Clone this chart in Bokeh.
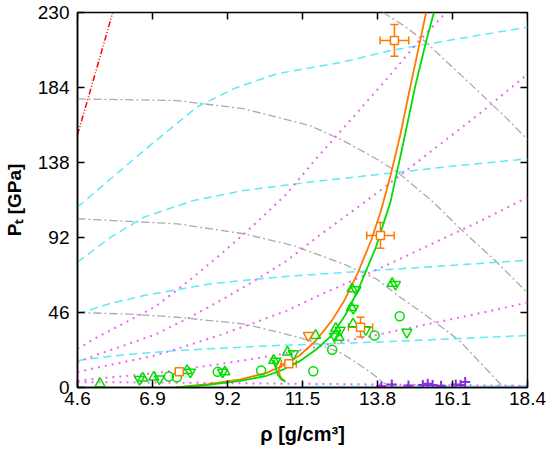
import math
from bokeh.plotting import figure
from bokeh.models import Range1d, FixedTicker, Whisker, ColumnDataSource, TeeHead
from bokeh.embed import file_html
from bokeh.resources import INLINE

X_TICKS = [4.6, 6.9, 9.2, 11.5, 13.8, 16.1, 18.4]
X_LABELS = ["4.6", "6.9", "9.2", "11.5", "13.8", "16.1", "18.4"]
Y_TICKS = [0, 46, 92, 138, 184, 230]
Y_LABELS = ["0", "46", "92", "138", "184", "230"]
X_TITLE = "ρ [g/cm³]"
Y_TITLE = "Pₜ [GPa]"

# red dash-dot-dot line
red_x = [4.6, 5.26, 5.68]
red_y = [155, 200.6, 230]

# gray dash-dot arcs
arcA_x = [4.6, 6.2, 7.65, 9.69, 10.86, 11.72, 12.74, 13.5, 14.2]
arcA_y = [46, 45, 43.1, 39, 33.5, 28.8, 20.6, 10.5, 0]
arc1_x = [4.6, 7.65, 9.69, 11.22, 12.74, 13.76, 14.42, 15.3, 16.3, 17.67]
arc1_y = [103.5, 100.4, 94.3, 87.1, 75.9, 66.7, 56.5, 44, 29, 0]
arc2_x = [4.6, 7.65, 9.69, 11.72, 12.74, 13.76, 14.42, 15.44, 16.36, 17.4, 18.4]
arc2_y = [177, 176, 171, 160.7, 151.5, 140.3, 132, 115, 97, 78, 58]
arc3_x = [13.97, 14.6, 15.24, 16.5, 17.82, 18.4]
arc3_y = [230, 222, 212.5, 189, 164, 152]

# cyan dashed curves
cy1_x = [4.6, 5.62, 6.64, 7.14, 8.26, 9.42, 10.71, 12.74, 14.2, 16.3, 18.4]
cy1_y = [110.6, 128, 145.4, 153.6, 172, 183.5, 192.4, 199.6, 206.7, 214, 221]
cy2_x = [4.6, 5.62, 6.64, 8.16, 9.69, 11.72, 13.76, 16.0, 18.4]
cy2_y = [76.9, 92.2, 104.5, 114.7, 120.8, 126, 130.5, 135.5, 140.3]
cy3_x = [4.6, 5.6, 6.64, 8.67, 10.71, 12.39, 15.0, 18.4]
cy3_y = [45.2, 51.5, 56.4, 63.6, 67.7, 70, 73.5, 78]
cy4_x = [4.6, 6.0, 7.65, 10.71, 13.76, 18.4]
cy4_y = [16.6, 20.0, 22.7, 25.8, 27.8, 31.9]
cy5_x = [11.0, 14.0, 18.4]
cy5_y = [0.5, 0.7, 0.9]

# magenta dotted curves
mg_x = [4.6, 5.2, 6.0, 7.0, 8.0, 9.0, 10.0, 11.0, 12.0, 13.0, 14.0, 15.0, 16.0, 17.0, 18.4]
mga_x = [4.6, 5.2, 6.0, 7.0, 8.0, 9.0, 10.0, 11.0, 12.0, 13.0, 14.0, 15.0, 15.9]
mga_y = [23.7, 30.8, 39.1, 49.8, 65.2, 81.8, 99.5, 118.5, 142.2, 164.7, 187.2, 210.9, 230]
mgb_y = [15.5, 20.2, 25.6, 32.6, 42.6, 53.5, 65.1, 77.5, 93, 107.7, 122.5, 138, 153.5, 169, 192.2]
mgc_y = [9.4, 12.2, 15.5, 19.7, 25.9, 32.4, 39.5, 47, 56.4, 65.3, 74.3, 83.7, 93.1, 102.5, 116.6]
mgd_y = [4.2, 5.5, 6.9, 8.8, 11.6, 14.5, 17.6, 21, 25.2, 29.2, 33.2, 37.4, 41.6, 45.8, 52.1]
mge_x = [4.6, 6.0, 8.0, 10.0, 12.0, 14.0, 16.0, 18.4]
mge_y = [3.3, 3.2, 2.9, 2.5, 2.2, 1.8, 1.4, 1.1]

# solid model curves
or_x = [7.6, 8.6, 9.6, 10.4, 10.9, 11.4, 11.9, 12.4, 12.8, 13.2, 13.6, 13.9, 14.2, 14.5, 14.8, 15.1, 15.29]
or_y = [0, 2, 5, 9, 13.5, 19.5, 28.5, 41, 54, 70.5, 90, 108, 130, 155, 184, 212, 230]
gr_x = [7.6, 8.6, 9.6, 10.4, 10.9, 11.4, 11.9, 12.4, 12.8, 13.2, 13.75, 14.2, 14.57, 14.96, 15.3, 15.53]
gr_y = [0, 1.6, 4, 7.2, 11, 16, 23, 32, 44, 59.5, 86, 114, 148, 185, 213, 230]
hook_or_x = [10.85, 10.78, 10.8, 10.87, 10.97]
hook_or_y = [15, 11, 7.5, 5, 4]
hook_gr_x = [10.62, 10.68, 10.75, 10.85, 10.98]
hook_gr_y = [17, 12, 7.5, 5, 3.5]

# green data points
circ_x = [7.4, 7.65, 8.9, 10.23, 11.83, 12.41, 13.71, 14.48]
circ_y = [6.7, 6.3, 9.6, 10.4, 10.0, 23.1, 31.9, 43.7]
up_x = [5.29, 6.6, 6.94, 7.96, 9.12, 10.62, 11.04, 11.9, 12.52, 12.62, 13.02, 13.0, 13.05, 14.25]
up_y = [2.3, 5.8, 6.3, 10.4, 9.6, 16.6, 21.7, 31.9, 36.3, 30.7, 60.5, 49, 39, 63.8]
down_x = [6.5, 7.11, 8.06, 9.05, 10.68, 11.22, 12.66, 12.48, 13.14, 13.06, 13.44, 14.7, 14.35]
down_y = [5.0, 5.3, 9.4, 9.4, 16.2, 20.7, 35.2, 31.5, 60, 48.5, 35.5, 33.9, 63.2]

# orange data points
sq_x = [7.72, 11.08, 13.28, 13.89, 14.32]
sq_y = [9.6, 14.5, 37.0, 93.3, 212.9]
sq_xerr = [0.0, 0.23, 0.37, 0.42, 0.44]
sq_yerr = [0.0, 0.0, 6.1, 7.9, 9.8]
od_x = [11.68]
od_y = [31.9]

# purple crosses
pc_x = [13.92, 14.24, 14.75, 15.19, 15.34, 15.49, 15.75, 16.2, 16.35, 16.49]
pc_y = [0.8, 1.8, 1.2, 1.6, 2.3, 1.6, 1.0, 1.8, 1.5, 3.3]

GREEN = "#00dd00"
ORANGE = "#ff7a00"
CYAN = "#5eeaf5"
MAGENTA = "#ee66ee"
GRAY = "#aaaaaa"
PURPLE = "#8a2be2"
FONT = "Liberation Sans"

X0, X1 = 4.6, 18.4
Y0, Y1 = 0, 230

p = figure(width=550, height=453, output_backend="svg", toolbar_location=None,
           x_range=Range1d(X0, X1), y_range=Range1d(Y0, Y1),
           min_border_left=75, min_border_top=12, min_border_right=23, min_border_bottom=66)
p.grid.visible = False
p.outline_line_color = "black"
p.outline_line_width = 1.5
p.background_fill_color = "white"
p.border_fill_color = "white"

for ax, ticks, labels in ((p.xaxis[0], X_TICKS, X_LABELS), (p.yaxis[0], Y_TICKS, Y_LABELS)):
    ax.ticker = FixedTicker(ticks=ticks)
    ax.major_label_overrides = {t: l for t, l in zip(ticks, labels)}
    ax.major_tick_in = 7
    ax.major_tick_out = 0
    ax.minor_tick_in = 0
    ax.minor_tick_out = 0
    ax.axis_line_width = 1.5
    ax.major_tick_line_width = 1.5
    ax.major_label_text_font = FONT
    ax.major_label_text_font_size = "19px"
    ax.major_label_text_color = "black"
    ax.axis_label_text_font = FONT
    ax.axis_label_text_font_style = "bold"
    ax.axis_label_text_color = "black"
p.xaxis.major_label_standoff = 4
p.yaxis.major_label_standoff = 8
p.xaxis.axis_label = X_TITLE
p.xaxis.axis_label_text_font_size = "20px"
p.xaxis.axis_label_standoff = 15
p.yaxis.axis_label = Y_TITLE
p.yaxis.axis_label_text_font_size = "19px"
p.yaxis.axis_label_standoff = 10

# mirrored tick marks on top and right edges (outer half of each dash is clipped by the frame)
p.scatter(X_TICKS, [Y1] * len(X_TICKS), marker="dash", angle=math.pi / 2, size=14,
          line_color="black", line_width=1.5)
p.scatter([X1] * len(Y_TICKS), Y_TICKS, marker="dash", size=14,
          line_color="black", line_width=1.5)

# curves
p.line(red_x, red_y, line_color="red", line_width=1.5, line_dash="6 2 1 2 1 2")
for xs, ys in ((arcA_x, arcA_y), (arc1_x, arc1_y), (arc2_x, arc2_y), (arc3_x, arc3_y)):
    p.line(xs, ys, line_color=GRAY, line_width=1.3, line_dash="8 3 2 3")
for xs, ys in ((cy1_x, cy1_y), (cy2_x, cy2_y), (cy3_x, cy3_y), (cy4_x, cy4_y), (cy5_x, cy5_y)):
    p.line(xs, ys, line_color=CYAN, line_width=1.5, line_dash="8 5")
p.line(mga_x, mga_y, line_color=MAGENTA, line_width=2, line_dash="2 5")
for ys in (mgb_y, mgc_y, mgd_y):
    p.line(mg_x, ys, line_color=MAGENTA, line_width=2, line_dash="2 5")
p.line(mge_x, mge_y, line_color=MAGENTA, line_width=2, line_dash="2 5")

p.line(or_x, or_y, line_color=ORANGE, line_width=1.8)
p.line(gr_x, gr_y, line_color=GREEN, line_width=1.8)
p.line(hook_or_x, hook_or_y, line_color=ORANGE, line_width=1.8)
p.line(hook_gr_x, hook_gr_y, line_color=GREEN, line_width=1.8)

# markers
p.scatter(circ_x, circ_y, marker="circle", size=9, fill_color=None, line_color=GREEN, line_width=1.5)
p.scatter(up_x, up_y, marker="triangle", size=10, fill_color=None, line_color=GREEN, line_width=1.5)
p.scatter(down_x, down_y, marker="inverted_triangle", size=10, fill_color=None, line_color=GREEN, line_width=1.5)
p.scatter(od_x, od_y, marker="inverted_triangle", size=10, fill_color=None, line_color=ORANGE, line_width=1.5)
p.scatter(pc_x, pc_y, marker="cross", size=10, line_color=PURPLE, line_width=2)

ex = [i for i, e in enumerate(sq_xerr) if e > 0]
ey = [i for i, e in enumerate(sq_yerr) if e > 0]
src_x = ColumnDataSource(dict(y=[sq_y[i] for i in ex],
                              lo=[sq_x[i] - sq_xerr[i] for i in ex],
                              hi=[sq_x[i] + sq_xerr[i] for i in ex]))
src_y = ColumnDataSource(dict(x=[sq_x[i] for i in ey],
                              lo=[sq_y[i] - sq_yerr[i] for i in ey],
                              hi=[sq_y[i] + sq_yerr[i] for i in ey]))
p.add_layout(Whisker(source=src_x, base="y", lower="lo", upper="hi", dimension="width",
                     line_color=ORANGE, line_width=1.5,
                     lower_head=TeeHead(size=8, line_color=ORANGE, line_width=1.5),
                     upper_head=TeeHead(size=8, line_color=ORANGE, line_width=1.5)))
p.add_layout(Whisker(source=src_y, base="x", lower="lo", upper="hi", dimension="height",
                     line_color=ORANGE, line_width=1.5,
                     lower_head=TeeHead(size=8, line_color=ORANGE, line_width=1.5),
                     upper_head=TeeHead(size=8, line_color=ORANGE, line_width=1.5)))
p.scatter(sq_x, sq_y, marker="square", size=8, fill_color="white", line_color=ORANGE, line_width=1.5)

open("out.html", "w").write(file_html(p, INLINE))
